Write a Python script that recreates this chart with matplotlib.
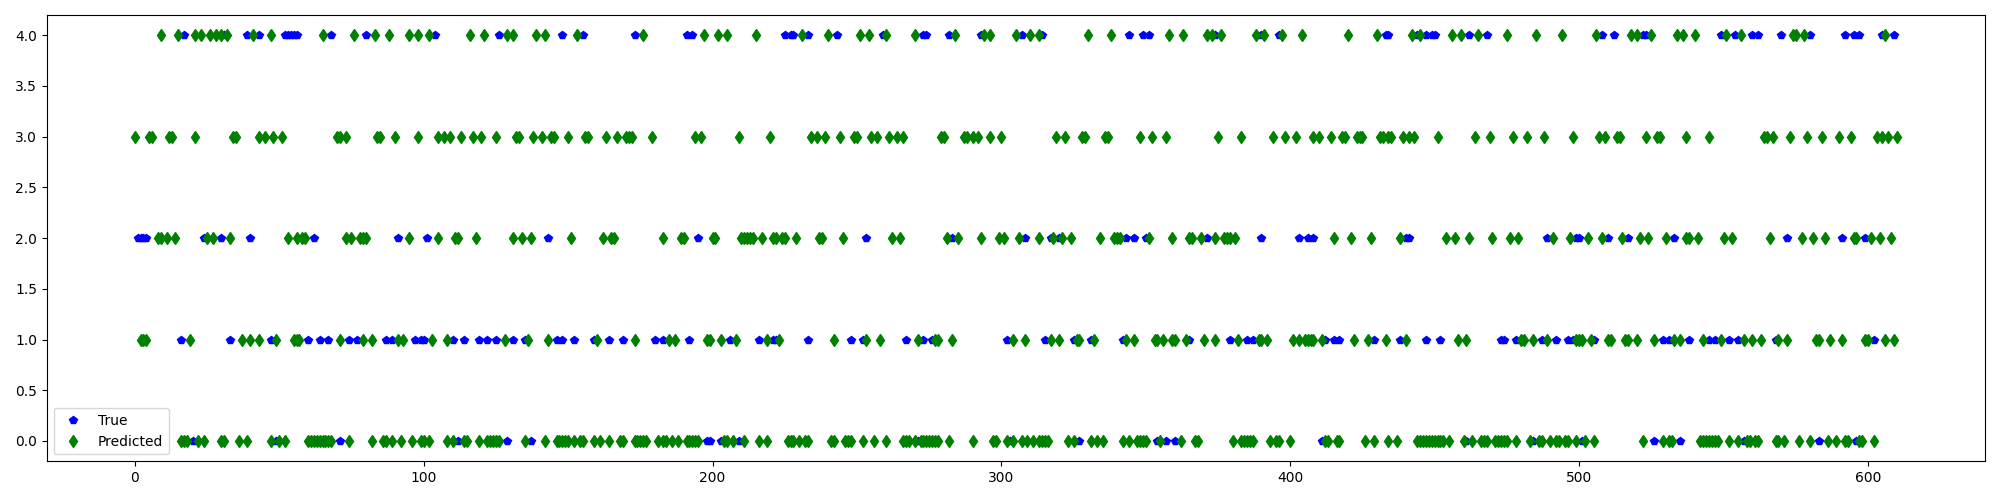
import numpy as np
import matplotlib
matplotlib.use("Agg")
import matplotlib.pyplot as plt

# Sample indices where the blue "True" markers are visible, per class row
true_0 = [20, 49, 71, 112, 129, 137, 198, 199, 203, 209, 271, 303, 327, 354, 357, 360,
          411, 461, 484, 501, 526, 535, 557, 583, 596]
true_1 = [16, 33, 47, 60, 64, 67, 74, 77, 87, 89, 97, 99, 100, 110, 114, 119, 122, 125,
          131, 135, 146, 148, 152, 159, 164, 169, 180, 183, 192, 206, 216, 221, 222, 233,
          248, 252, 267, 273, 276, 302, 315, 325, 331, 342, 365, 379, 385, 387, 412, 415,
          417, 429, 438, 447, 452, 473, 474, 478, 487, 492, 496, 498, 505, 529, 531, 538,
          545, 547, 552, 555, 568, 602]
true_2 = [1, 2, 3, 4, 24, 30, 40, 62, 91, 101, 143, 195, 253, 283, 308, 317, 320, 343,
          346, 350, 371, 390, 403, 406, 408, 440, 441, 489, 499, 500, 510, 517, 533, 572,
          591, 599]
true_3 = []
true_4 = [17, 31, 39, 43, 52, 53, 54, 55, 56, 68, 80, 104, 126, 148, 155, 173, 191, 193,
          225, 227, 228, 233, 243, 259, 273, 274, 282, 293, 307, 314, 344, 349, 351, 374,
          390, 396, 433, 434, 444, 447, 449, 450, 462, 468, 508, 512, 522, 523, 549, 554,
          560, 562, 570, 580, 592, 595, 597, 605, 609]

# Sample indices of the green "Predicted" markers, per class row
pred_0 = [16, 17, 18, 22, 24, 30, 31, 36, 39, 47, 50, 52, 60, 61, 62, 63, 64, 65, 66, 67,
          68, 74, 82, 86, 87, 89, 92, 96, 99, 100, 102, 108, 110, 114, 115, 119, 122, 123,
          124, 125, 126, 135, 142, 146, 147, 148, 149, 150, 152, 154, 155, 159, 161, 164,
          168, 169, 173, 174, 175, 176, 177, 181, 183, 184, 186, 188, 191, 192, 193, 194,
          195, 204, 205, 207, 211, 216, 219, 226, 227, 228, 230, 232, 233, 241, 242, 246,
          247, 248, 252, 256, 260, 266, 267, 268, 270, 272, 273, 274, 275, 276, 277, 278,
          282, 290, 297, 298, 302, 304, 307, 309, 311, 313, 314, 315, 316, 323, 325, 331,
          333, 335, 342, 344, 347, 348, 349, 350, 355, 362, 367, 368, 380, 383, 384, 385,
          386, 387, 393, 395, 396, 400, 412, 413, 416, 417, 426, 429, 434, 437, 444, 445,
          446, 447, 448, 449, 450, 451, 452, 453, 455, 460, 463, 466, 467, 468, 471, 472,
          473, 474, 475, 478, 483, 486, 487, 490, 492, 493, 495, 496, 499, 502, 505, 522,
          529, 531, 532, 542, 543, 544, 545, 546, 547, 548, 552, 555, 558, 559, 561, 562,
          568, 569, 571, 576, 580, 586, 589, 592, 593, 597, 598, 602]
pred_1 = [2, 3, 4, 19, 37, 40, 43, 49, 55, 56, 57, 71, 79, 82, 91, 93, 103, 108, 128, 136,
          143, 160, 173, 185, 187, 198, 199, 203, 208, 219, 223, 242, 253, 258, 271, 277,
          278, 283, 304, 308, 317, 320, 326, 327, 332, 343, 346, 353, 354, 356, 359, 360,
          364, 370, 374, 382, 389, 390, 392, 401, 403, 405, 406, 407, 408, 411, 422, 427,
          433, 440, 458, 461, 480, 481, 484, 489, 499, 500, 501, 504, 510, 511, 516, 517,
          520, 526, 533, 535, 543, 549, 557, 560, 563, 569, 572, 582, 583, 587, 591, 599,
          600, 606, 609]
pred_2 = [8, 9, 11, 14, 25, 27, 33, 53, 56, 58, 59, 73, 75, 78, 79, 80, 95, 105, 111, 112,
          118, 131, 134, 137, 151, 162, 165, 166, 183, 189, 190, 200, 201, 210, 211, 212,
          213, 214, 217, 221, 222, 224, 225, 229, 237, 238, 245, 262, 265, 281, 285, 293,
          299, 301, 306, 313, 318, 321, 324, 334, 339, 340, 341, 351, 359, 365, 366, 369,
          374, 377, 378, 379, 381, 415, 421, 428, 438, 454, 457, 462, 470, 476, 479, 491,
          497, 503, 508, 515, 521, 524, 530, 537, 538, 541, 550, 553, 566, 577, 581, 585,
          595, 596, 601, 604, 608]
pred_3 = [0, 5, 6, 12, 13, 21, 34, 35, 43, 45, 48, 51, 70, 71, 73, 84, 85, 90, 98, 105,
          107, 109, 113, 117, 120, 125, 132, 133, 138, 141, 144, 145, 150, 156, 157, 163,
          167, 170, 171, 172, 179, 194, 196, 209, 220, 234, 236, 239, 244, 249, 250, 255,
          257, 261, 264, 266, 279, 280, 287, 288, 290, 292, 296, 300, 319, 322, 328, 329,
          336, 337, 348, 352, 357, 375, 383, 394, 398, 402, 408, 410, 414, 418, 419, 423,
          424, 425, 431, 432, 434, 435, 439, 441, 443, 451, 464, 469, 477, 482, 488, 498,
          507, 509, 513, 514, 523, 527, 528, 537, 545, 564, 565, 567, 573, 579, 584, 590,
          594, 603, 605, 607, 610]
pred_4 = [9, 15, 21, 23, 26, 28, 30, 32, 41, 47, 65, 76, 83, 88, 95, 98, 102, 116, 121,
          129, 131, 139, 142, 153, 176, 197, 202, 205, 215, 231, 240, 251, 254, 260, 270,
          284, 294, 296, 305, 310, 313, 330, 338, 358, 363, 371, 373, 376, 388, 391, 397,
          404, 420, 430, 442, 445, 456, 459, 465, 475, 485, 494, 506, 518, 520, 525, 534,
          536, 540, 551, 556, 574, 575, 578, 606]

true_rows = [true_0, true_1, true_2, true_3, true_4]
pred_rows = [pred_0, pred_1, pred_2, pred_3, pred_4]

tx = np.concatenate([np.asarray(r, dtype=float) for r in true_rows])
ty = np.concatenate([np.full(len(r), c, dtype=float) for c, r in enumerate(true_rows)])
px = np.concatenate([np.asarray(r, dtype=float) for r in pred_rows])
py = np.concatenate([np.full(len(r), c, dtype=float) for c, r in enumerate(pred_rows)])

fig, ax = plt.subplots(figsize=(20, 5), dpi=100)
ax.plot(tx, ty, 'bp', label='True')
ax.plot(px, py, 'gd', label='Predicted')
ax.legend(loc='lower left')
fig.tight_layout()
fig.savefig('out.png', dpi=100)
